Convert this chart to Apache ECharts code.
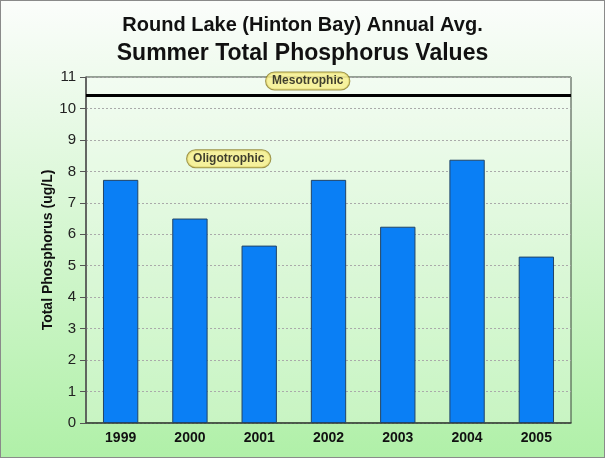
<!DOCTYPE html>
<html><head><meta charset="utf-8">
<script src="https://cdn.jsdelivr.net/npm/echarts@6/dist/echarts.min.js"></script>
<style>html,body{margin:0;padding:0;background:#fff}#c{width:603px;height:456px;border:1px solid #8a8a8a;}</style>
</head><body><div id="c"></div>
<script>
const years = ['1999','2000','2001','2002','2003','2004','2005'];
const phosphorus = [7.73, 6.5, 5.64, 7.73, 6.24, 8.37, 5.29];
const yTicks = [0,1,2,3,4,5,6,7,8,9,10,11];
const mesoThreshold = 10.43;
const zoneLabels = [
  {name:'Mesotrophic', x:3.2, y:10.87},
  {name:'Oligotrophic', x:2.06, y:8.4}
];
const chart = echarts.init(document.getElementById('c'), null, {renderer:'canvas'});
const font = 'Arial, "Liberation Sans", sans-serif';
chart.setOption({
  animation:false,
  backgroundColor:{type:'linear',x:0,y:0,x2:0,y2:1,colorStops:[{offset:0,color:'#fbfdfb'},{offset:1,color:'#b0f0a8'}]},
  title:[
    {text:'Round Lake (Hinton Bay) Annual Avg.',left:'center',top:9,textStyle:{fontFamily:font,fontSize:20,fontWeight:'bold',color:'#111'}},
    {text:'Summer Total Phosphorus Values',left:'center',top:36,textStyle:{fontFamily:font,fontSize:23,fontWeight:'bold',color:'#111'}}
  ],
  grid:{left:85,right:33,top:76,bottom:34,show:true,borderColor:'#3a443a',borderWidth:1,
    backgroundColor:'rgba(255,255,255,0.25)'},
  xAxis:[{type:'category',data:years,axisTick:{show:false},
    axisLine:{lineStyle:{color:'#3a443a',width:1.5}},
    axisLabel:{fontFamily:font,fontSize:14,fontWeight:'bold',color:'#111',margin:8}},
    {type:'value',min:0,max:7,show:false}],
  yAxis:{type:'value',min:0,max:11,interval:1,
    name:'Total Phosphorus (ug/L)',nameLocation:'middle',nameGap:31,nameRotate:90,nameMoveOverlap:false,
    nameTextStyle:{fontFamily:font,fontSize:14,fontWeight:'bold',color:'#111'},
    axisLine:{show:true,lineStyle:{color:'#555',width:1.5}},
    axisTick:{show:true,length:6,lineStyle:{color:'#555'}},
    axisLabel:{fontFamily:font,fontSize:15,color:'#222',margin:10,
      formatter:v=>yTicks.includes(v)?String(v):''},
    splitLine:{show:true,lineStyle:{color:'#aaa',type:[2,2],width:1}}},
  series:[
    {type:'bar',data:phosphorus,barWidth:'51%',
      itemStyle:{color:'#0a7ff5',borderColor:'#224466',borderWidth:1},
      markLine:{symbol:'none',silent:true,label:{show:false},
        lineStyle:{color:'#000',width:3,type:'solid'},data:[{yAxis:mesoThreshold}]}},
    {type:'scatter',xAxisIndex:1,symbolSize:0,
      data:zoneLabels.map(d=>({name:d.name,value:[d.x,d.y]})),
      label:{show:true,position:'inside',formatter:p=>p.name,fontFamily:font,fontSize:12,fontWeight:'bold',
        color:'#111',backgroundColor:'#f7ef8a',borderColor:'#8a7a20',borderWidth:1,borderRadius:9,padding:[3,6,2,6]}}
  ]
});
</script></body></html>
